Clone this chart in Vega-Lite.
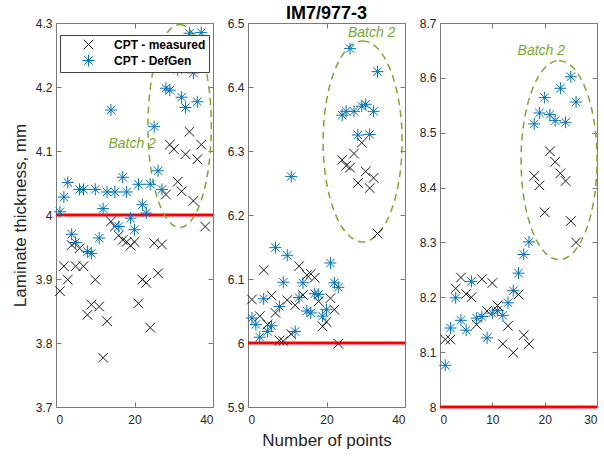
{
  "$schema": "https://vega.github.io/schema/vega-lite/v6.json",
  "padding": {"left": 10, "top": 4, "right": 4, "bottom": 4},
  "bounds": "flush",
  "spacing": 35,
  "config": {
    "font": "Liberation Sans",
    "view": {"stroke": "#7a7a7a", "strokeWidth": 1},
    "axis": {"grid": false, "domain": false, "tickColor": "#7a7a7a", "tickSize": -5, "labelColor": "#262626", "labelFontSize": 12, "titleColor": "#262626", "titleFontSize": 17, "titleFontWeight": "normal"},
    "axisX": {"labelPadding": 12, "titlePadding": 7},
    "axisY": {"labelPadding": 9, "titlePadding": 6}
  },
  "datasets": {
    "p1": [
      {"x":1,"y":3.881,"series":"CPT - measured"},{"x":2,"y":3.920,"series":"CPT - measured"},{"x":3,"y":3.899,"series":"CPT - measured"},{"x":4,"y":3.953,"series":"CPT - measured"},{"x":5,"y":3.920,"series":"CPT - measured"},{"x":6,"y":3.948,"series":"CPT - measured"},{"x":7,"y":3.920,"series":"CPT - measured"},{"x":8,"y":3.844,"series":"CPT - measured"},{"x":9,"y":3.860,"series":"CPT - measured"},{"x":10,"y":3.899,"series":"CPT - measured"},{"x":11,"y":3.857,"series":"CPT - measured"},{"x":12,"y":3.777,"series":"CPT - measured"},{"x":13,"y":3.834,"series":"CPT - measured"},{"x":14,"y":3.990,"series":"CPT - measured"},{"x":15,"y":3.982,"series":"CPT - measured"},{"x":16,"y":3.968,"series":"CPT - measured"},{"x":17,"y":3.961,"series":"CPT - measured"},{"x":18,"y":3.958,"series":"CPT - measured"},{"x":19,"y":3.952,"series":"CPT - measured"},{"x":20,"y":3.958,"series":"CPT - measured"},{"x":21,"y":3.862,"series":"CPT - measured"},{"x":22,"y":3.899,"series":"CPT - measured"},{"x":23,"y":3.894,"series":"CPT - measured"},{"x":24,"y":3.824,"series":"CPT - measured"},{"x":25,"y":3.956,"series":"CPT - measured"},{"x":26,"y":3.909,"series":"CPT - measured"},{"x":27,"y":3.954,"series":"CPT - measured"},{"x":28,"y":4.032,"series":"CPT - measured"},{"x":29,"y":4.110,"series":"CPT - measured"},{"x":30,"y":4.103,"series":"CPT - measured"},{"x":31,"y":4.052,"series":"CPT - measured"},{"x":32,"y":4.037,"series":"CPT - measured"},{"x":33,"y":4.095,"series":"CPT - measured"},{"x":34,"y":4.130,"series":"CPT - measured"},{"x":35,"y":4.022,"series":"CPT - measured"},{"x":36,"y":4.087,"series":"CPT - measured"},{"x":37,"y":4.110,"series":"CPT - measured"},{"x":38,"y":3.982,"series":"CPT - measured"},
      {"x":1,"y":4.005,"series":"CPT - DefGen"},{"x":2,"y":4.028,"series":"CPT - DefGen"},{"x":3,"y":4.051,"series":"CPT - DefGen"},{"x":4,"y":3.970,"series":"CPT - DefGen"},{"x":5,"y":3.957,"series":"CPT - DefGen"},{"x":6,"y":4.040,"series":"CPT - DefGen"},{"x":7,"y":4.040,"series":"CPT - DefGen"},{"x":8,"y":3.943,"series":"CPT - DefGen"},{"x":9,"y":3.940,"series":"CPT - DefGen"},{"x":10,"y":4.040,"series":"CPT - DefGen"},{"x":11,"y":3.964,"series":"CPT - DefGen"},{"x":12,"y":4.010,"series":"CPT - DefGen"},{"x":13,"y":4.036,"series":"CPT - DefGen"},{"x":14,"y":4.164,"series":"CPT - DefGen"},{"x":15,"y":4.036,"series":"CPT - DefGen"},{"x":16,"y":3.982,"series":"CPT - DefGen"},{"x":17,"y":4.059,"series":"CPT - DefGen"},{"x":18,"y":4.036,"series":"CPT - DefGen"},{"x":19,"y":3.995,"series":"CPT - DefGen"},{"x":20,"y":3.977,"series":"CPT - DefGen"},{"x":21,"y":4.048,"series":"CPT - DefGen"},{"x":22,"y":4.016,"series":"CPT - DefGen"},{"x":23,"y":4.003,"series":"CPT - DefGen"},{"x":24,"y":4.048,"series":"CPT - DefGen"},{"x":25,"y":4.138,"series":"CPT - DefGen"},{"x":26,"y":4.069,"series":"CPT - DefGen"},{"x":27,"y":4.040,"series":"CPT - DefGen"},{"x":28,"y":4.198,"series":"CPT - DefGen"},{"x":29,"y":4.195,"series":"CPT - DefGen"},{"x":30,"y":4.260,"series":"CPT - DefGen"},{"x":31,"y":4.227,"series":"CPT - DefGen"},{"x":32,"y":4.184,"series":"CPT - DefGen"},{"x":33,"y":4.168,"series":"CPT - DefGen"},{"x":34,"y":4.284,"series":"CPT - DefGen"},{"x":35,"y":4.222,"series":"CPT - DefGen"},{"x":36,"y":4.177,"series":"CPT - DefGen"},{"x":37,"y":4.285,"series":"CPT - DefGen"}
    ],
    "p2": [
      {"x":1,"y":6.068,"series":"CPT - measured"},{"x":3,"y":6.042,"series":"CPT - measured"},{"x":4,"y":6.114,"series":"CPT - measured"},{"x":5,"y":6.029,"series":"CPT - measured"},{"x":6,"y":6.074,"series":"CPT - measured"},{"x":7,"y":6.047,"series":"CPT - measured"},{"x":8,"y":6.004,"series":"CPT - measured"},{"x":9,"y":6.003,"series":"CPT - measured"},{"x":10,"y":6.067,"series":"CPT - measured"},{"x":11,"y":6.014,"series":"CPT - measured"},{"x":12,"y":6.059,"series":"CPT - measured"},{"x":13,"y":6.120,"series":"CPT - measured"},{"x":14,"y":6.075,"series":"CPT - measured"},{"x":15,"y":6.106,"series":"CPT - measured"},{"x":16,"y":6.108,"series":"CPT - measured"},{"x":17,"y":6.102,"series":"CPT - measured"},{"x":18,"y":6.065,"series":"CPT - measured"},{"x":19,"y":6.026,"series":"CPT - measured"},{"x":20,"y":6.033,"series":"CPT - measured"},{"x":21,"y":6.070,"series":"CPT - measured"},{"x":22,"y":6.052,"series":"CPT - measured"},{"x":23,"y":5.999,"series":"CPT - measured"},{"x":24,"y":6.286,"series":"CPT - measured"},{"x":25,"y":6.277,"series":"CPT - measured"},{"x":26,"y":6.274,"series":"CPT - measured"},{"x":27,"y":6.296,"series":"CPT - measured"},{"x":28,"y":6.250,"series":"CPT - measured"},{"x":29,"y":6.313,"series":"CPT - measured"},{"x":30,"y":6.268,"series":"CPT - measured"},{"x":31,"y":6.242,"series":"CPT - measured"},{"x":32,"y":6.258,"series":"CPT - measured"},{"x":33,"y":6.171,"series":"CPT - measured"},
      {"x":1,"y":6.039,"series":"CPT - DefGen"},{"x":2,"y":6.029,"series":"CPT - DefGen"},{"x":3,"y":6.009,"series":"CPT - DefGen"},{"x":4,"y":6.069,"series":"CPT - DefGen"},{"x":5,"y":6.018,"series":"CPT - DefGen"},{"x":6,"y":6.027,"series":"CPT - DefGen"},{"x":7,"y":6.149,"series":"CPT - DefGen"},{"x":8,"y":6.057,"series":"CPT - DefGen"},{"x":9,"y":6.095,"series":"CPT - DefGen"},{"x":10,"y":6.137,"series":"CPT - DefGen"},{"x":11,"y":6.260,"series":"CPT - DefGen"},{"x":12,"y":6.018,"series":"CPT - DefGen"},{"x":13,"y":6.071,"series":"CPT - DefGen"},{"x":14,"y":6.094,"series":"CPT - DefGen"},{"x":15,"y":6.050,"series":"CPT - DefGen"},{"x":16,"y":6.047,"series":"CPT - DefGen"},{"x":17,"y":6.077,"series":"CPT - DefGen"},{"x":18,"y":6.076,"series":"CPT - DefGen"},{"x":19,"y":6.042,"series":"CPT - DefGen"},{"x":20,"y":6.052,"series":"CPT - DefGen"},{"x":21,"y":6.125,"series":"CPT - DefGen"},{"x":22,"y":6.094,"series":"CPT - DefGen"},{"x":23,"y":6.087,"series":"CPT - DefGen"},{"x":24,"y":6.356,"series":"CPT - DefGen"},{"x":25,"y":6.362,"series":"CPT - DefGen"},{"x":26,"y":6.460,"series":"CPT - DefGen"},{"x":27,"y":6.362,"series":"CPT - DefGen"},{"x":28,"y":6.325,"series":"CPT - DefGen"},{"x":29,"y":6.370,"series":"CPT - DefGen"},{"x":30,"y":6.373,"series":"CPT - DefGen"},{"x":31,"y":6.326,"series":"CPT - DefGen"},{"x":32,"y":6.362,"series":"CPT - DefGen"},{"x":33,"y":6.424,"series":"CPT - DefGen"}
    ],
    "p3": [
      {"x":1,"y":8.123,"series":"CPT - measured"},{"x":2,"y":8.123,"series":"CPT - measured"},{"x":3,"y":8.216,"series":"CPT - measured"},{"x":4,"y":8.236,"series":"CPT - measured"},{"x":5,"y":8.206,"series":"CPT - measured"},{"x":6,"y":8.200,"series":"CPT - measured"},{"x":7,"y":8.150,"series":"CPT - measured"},{"x":8,"y":8.233,"series":"CPT - measured"},{"x":9,"y":8.175,"series":"CPT - measured"},{"x":10,"y":8.226,"series":"CPT - measured"},{"x":11,"y":8.185,"series":"CPT - measured"},{"x":12,"y":8.115,"series":"CPT - measured"},{"x":13,"y":8.148,"series":"CPT - measured"},{"x":14,"y":8.099,"series":"CPT - measured"},{"x":15,"y":8.205,"series":"CPT - measured"},{"x":16,"y":8.131,"series":"CPT - measured"},{"x":17,"y":8.115,"series":"CPT - measured"},{"x":18,"y":8.421,"series":"CPT - measured"},{"x":19,"y":8.404,"series":"CPT - measured"},{"x":20,"y":8.355,"series":"CPT - measured"},{"x":21,"y":8.466,"series":"CPT - measured"},{"x":22,"y":8.447,"series":"CPT - measured"},{"x":23,"y":8.426,"series":"CPT - measured"},{"x":24,"y":8.412,"series":"CPT - measured"},{"x":25,"y":8.339,"series":"CPT - measured"},{"x":26,"y":8.300,"series":"CPT - measured"},
      {"x":1,"y":8.076,"series":"CPT - DefGen"},{"x":2,"y":8.144,"series":"CPT - DefGen"},{"x":3,"y":8.199,"series":"CPT - DefGen"},{"x":4,"y":8.158,"series":"CPT - DefGen"},{"x":5,"y":8.140,"series":"CPT - DefGen"},{"x":6,"y":8.229,"series":"CPT - DefGen"},{"x":7,"y":8.162,"series":"CPT - DefGen"},{"x":8,"y":8.165,"series":"CPT - DefGen"},{"x":9,"y":8.126,"series":"CPT - DefGen"},{"x":10,"y":8.171,"series":"CPT - DefGen"},{"x":11,"y":8.176,"series":"CPT - DefGen"},{"x":12,"y":8.167,"series":"CPT - DefGen"},{"x":13,"y":8.190,"series":"CPT - DefGen"},{"x":14,"y":8.212,"series":"CPT - DefGen"},{"x":15,"y":8.244,"series":"CPT - DefGen"},{"x":16,"y":8.278,"series":"CPT - DefGen"},{"x":17,"y":8.301,"series":"CPT - DefGen"},{"x":18,"y":8.516,"series":"CPT - DefGen"},{"x":19,"y":8.536,"series":"CPT - DefGen"},{"x":20,"y":8.564,"series":"CPT - DefGen"},{"x":21,"y":8.533,"series":"CPT - DefGen"},{"x":22,"y":8.522,"series":"CPT - DefGen"},{"x":23,"y":8.581,"series":"CPT - DefGen"},{"x":24,"y":8.519,"series":"CPT - DefGen"},{"x":25,"y":8.602,"series":"CPT - DefGen"},{"x":26,"y":8.556,"series":"CPT - DefGen"}
    ]
  },
  "hconcat": [
    {
      "width": 157, "height": 384,
      "resolve": {"axis": {"x": "independent", "y": "independent"}},
      "layer": [
        {
          "data": {"values": [{"x": 0, "y": 4}, {"x": 40, "y": 4}]},
          "mark": {"type": "line", "color": "#ff0000", "strokeWidth": 3},
          "encoding": {
            "x": {"field": "x", "type": "quantitative", "scale": {"domain": [0, 40], "nice": false, "zero": false}, "axis": null},
            "y": {"field": "y", "type": "quantitative", "scale": {"domain": [3.7, 4.3], "nice": false, "zero": false}, "axis": null}
          }
        },
        {
          "data": {"values": [{"x": 31.5, "y": 4.139}]},
          "mark": {"type": "point", "shape": "M0,-1A0.312,1 0 1,1 0,1A0.312,1 0 1,1 0,-1Z", "size": 41209, "filled": false, "stroke": "#77AC30", "strokeWidth": 1.5, "strokeDash": [7, 5], "opacity": 1},
          "encoding": {
            "x": {"field": "x", "type": "quantitative", "axis": null},
            "y": {"field": "y", "type": "quantitative", "axis": null}
          }
        },
        {
          "data": {"name": "p1"},
          "mark": {"type": "point", "filled": false, "strokeWidth": 1, "size": 144, "opacity": 1},
          "encoding": {
            "x": {"field": "x", "type": "quantitative", "axis": {"values": [0, 20, 40], "title": null, "orient": "bottom"}},
            "y": {"field": "y", "type": "quantitative", "axis": {"values": [3.7, 3.8, 3.9, 4.0, 4.1, 4.2, 4.3], "format": ".1~f", "title": "Laminate thickness, mm", "orient": "left"}},
            "color": {"field": "series", "type": "nominal", "scale": {"domain": ["CPT - measured", "CPT - DefGen"], "range": ["#1a1a1a", "#0072BD"]},
              "legend": {"title": null, "orient": "none", "legendX": 4, "legendY": 12, "fillColor": "white", "strokeColor": "#404040", "padding": 3, "labelFontSize": 12, "labelFontWeight": "bold", "labelColor": "black", "symbolOffset": 19, "labelOffset": 19, "rowPadding": 0, "symbolStrokeWidth": 1, "symbolSize": 144, "symbolFillColor": "transparent"}},
            "shape": {"field": "series", "type": "nominal", "scale": {"domain": ["CPT - measured", "CPT - DefGen"], "range": ["M-0.8,-0.8L0.8,0.8M-0.8,0.8L0.8,-0.8", "M0,-1L0,1M-1,0L1,0M-0.7,-0.7L0.7,0.7M-0.7,0.7L0.7,-0.7"]}, "legend": null}
          }
        },
        {
          "data": {"values": [{"x": 19.4, "y": 4.111, "label": "Batch 2"}]},
          "mark": {"type": "text", "fontStyle": "italic", "fontSize": 14, "color": "#77AC30", "align": "center", "baseline": "middle"},
          "encoding": {
            "x": {"field": "x", "type": "quantitative", "axis": {"orient": "top", "labels": false, "title": null, "values": [0, 20, 40]}},
            "y": {"field": "y", "type": "quantitative", "axis": {"orient": "right", "labels": false, "title": null, "values": [3.7, 3.8, 3.9, 4.0, 4.1, 4.2, 4.3]}},
            "text": {"field": "label"}
          }
        }
      ]
    },
    {
      "width": 157, "height": 384,
      "title": {"text": "IM7/977-3", "fontSize": 18, "fontWeight": "bold", "color": "black", "offset": -6},
      "resolve": {"axis": {"x": "independent", "y": "independent"}},
      "layer": [
        {
          "data": {"values": [{"x": 0, "y": 6}, {"x": 40, "y": 6}]},
          "mark": {"type": "line", "color": "#ff0000", "strokeWidth": 3},
          "encoding": {
            "x": {"field": "x", "type": "quantitative", "scale": {"domain": [0, 40], "nice": false, "zero": false}, "axis": null},
            "y": {"field": "y", "type": "quantitative", "scale": {"domain": [5.9, 6.5], "nice": false, "zero": false}, "axis": null}
          }
        },
        {
          "data": {"values": [{"x": 29.2, "y": 6.315}]},
          "mark": {"type": "point", "shape": "M0,-1A0.393,1 0 1,1 0,1A0.393,1 0 1,1 0,-1Z", "size": 40401, "filled": false, "stroke": "#77AC30", "strokeWidth": 1.5, "strokeDash": [7, 5], "opacity": 1},
          "encoding": {
            "x": {"field": "x", "type": "quantitative", "axis": null},
            "y": {"field": "y", "type": "quantitative", "axis": null}
          }
        },
        {
          "data": {"name": "p2"},
          "mark": {"type": "point", "filled": false, "strokeWidth": 1, "size": 144, "opacity": 1},
          "encoding": {
            "x": {"field": "x", "type": "quantitative", "axis": {"values": [0, 20, 40], "title": "Number of points", "orient": "bottom"}},
            "y": {"field": "y", "type": "quantitative", "axis": {"values": [5.9, 6.0, 6.1, 6.2, 6.3, 6.4, 6.5], "format": ".1~f", "title": null, "orient": "left"}},
            "color": {"field": "series", "type": "nominal", "scale": {"domain": ["CPT - measured", "CPT - DefGen"], "range": ["#1a1a1a", "#0072BD"]}, "legend": null},
            "shape": {"field": "series", "type": "nominal", "scale": {"domain": ["CPT - measured", "CPT - DefGen"], "range": ["M-0.8,-0.8L0.8,0.8M-0.8,0.8L0.8,-0.8", "M0,-1L0,1M-1,0L1,0M-0.7,-0.7L0.7,0.7M-0.7,0.7L0.7,-0.7"]}, "legend": null}
          }
        },
        {
          "data": {"values": [{"x": 31.5, "y": 6.484, "label": "Batch 2"}]},
          "mark": {"type": "text", "fontStyle": "italic", "fontSize": 14, "color": "#77AC30", "align": "center", "baseline": "middle"},
          "encoding": {
            "x": {"field": "x", "type": "quantitative", "axis": {"orient": "top", "labels": false, "title": null, "values": [0, 20, 40]}},
            "y": {"field": "y", "type": "quantitative", "axis": {"orient": "right", "labels": false, "title": null, "values": [5.9, 6.0, 6.1, 6.2, 6.3, 6.4, 6.5]}},
            "text": {"field": "label"}
          }
        }
      ]
    },
    {
      "width": 157, "height": 384,
      "resolve": {"axis": {"x": "independent", "y": "independent"}},
      "layer": [
        {
          "data": {"values": [{"x": 0, "y": 8}, {"x": 30, "y": 8}]},
          "mark": {"type": "line", "color": "#ff0000", "strokeWidth": 3},
          "encoding": {
            "x": {"field": "x", "type": "quantitative", "scale": {"domain": [0, 30], "nice": false, "zero": false}, "axis": null},
            "y": {"field": "y", "type": "quantitative", "scale": {"domain": [8.0, 8.7], "nice": false, "zero": false}, "axis": null}
          }
        },
        {
          "data": {"values": [{"x": 22.75, "y": 8.45}]},
          "mark": {"type": "point", "shape": "M0,-1A0.382,1 0 1,1 0,1A0.382,1 0 1,1 0,-1Z", "size": 39601, "filled": false, "stroke": "#77AC30", "strokeWidth": 1.5, "strokeDash": [7, 5], "opacity": 1},
          "encoding": {
            "x": {"field": "x", "type": "quantitative", "axis": null},
            "y": {"field": "y", "type": "quantitative", "axis": null}
          }
        },
        {
          "data": {"name": "p3"},
          "mark": {"type": "point", "filled": false, "strokeWidth": 1, "size": 144, "opacity": 1},
          "encoding": {
            "x": {"field": "x", "type": "quantitative", "axis": {"values": [0, 10, 20, 30], "title": null, "orient": "bottom"}},
            "y": {"field": "y", "type": "quantitative", "axis": {"values": [8.0, 8.1, 8.2, 8.3, 8.4, 8.5, 8.6, 8.7], "format": ".1~f", "title": null, "orient": "left"}},
            "color": {"field": "series", "type": "nominal", "scale": {"domain": ["CPT - measured", "CPT - DefGen"], "range": ["#1a1a1a", "#0072BD"]}, "legend": null},
            "shape": {"field": "series", "type": "nominal", "scale": {"domain": ["CPT - measured", "CPT - DefGen"], "range": ["M-0.8,-0.8L0.8,0.8M-0.8,0.8L0.8,-0.8", "M0,-1L0,1M-1,0L1,0M-0.7,-0.7L0.7,0.7M-0.7,0.7L0.7,-0.7"]}, "legend": null}
          }
        },
        {
          "data": {"values": [{"x": 19.36, "y": 8.649, "label": "Batch 2"}]},
          "mark": {"type": "text", "fontStyle": "italic", "fontSize": 14, "color": "#77AC30", "align": "center", "baseline": "middle"},
          "encoding": {
            "x": {"field": "x", "type": "quantitative", "axis": {"orient": "top", "labels": false, "title": null, "values": [0, 10, 20, 30]}},
            "y": {"field": "y", "type": "quantitative", "axis": {"orient": "right", "labels": false, "title": null, "values": [8.0, 8.1, 8.2, 8.3, 8.4, 8.5, 8.6, 8.7]}},
            "text": {"field": "label"}
          }
        }
      ]
    }
  ],
  "resolve": {"scale": {"color": "independent", "shape": "independent"}, "legend": {"color": "independent", "shape": "independent"}}
}
